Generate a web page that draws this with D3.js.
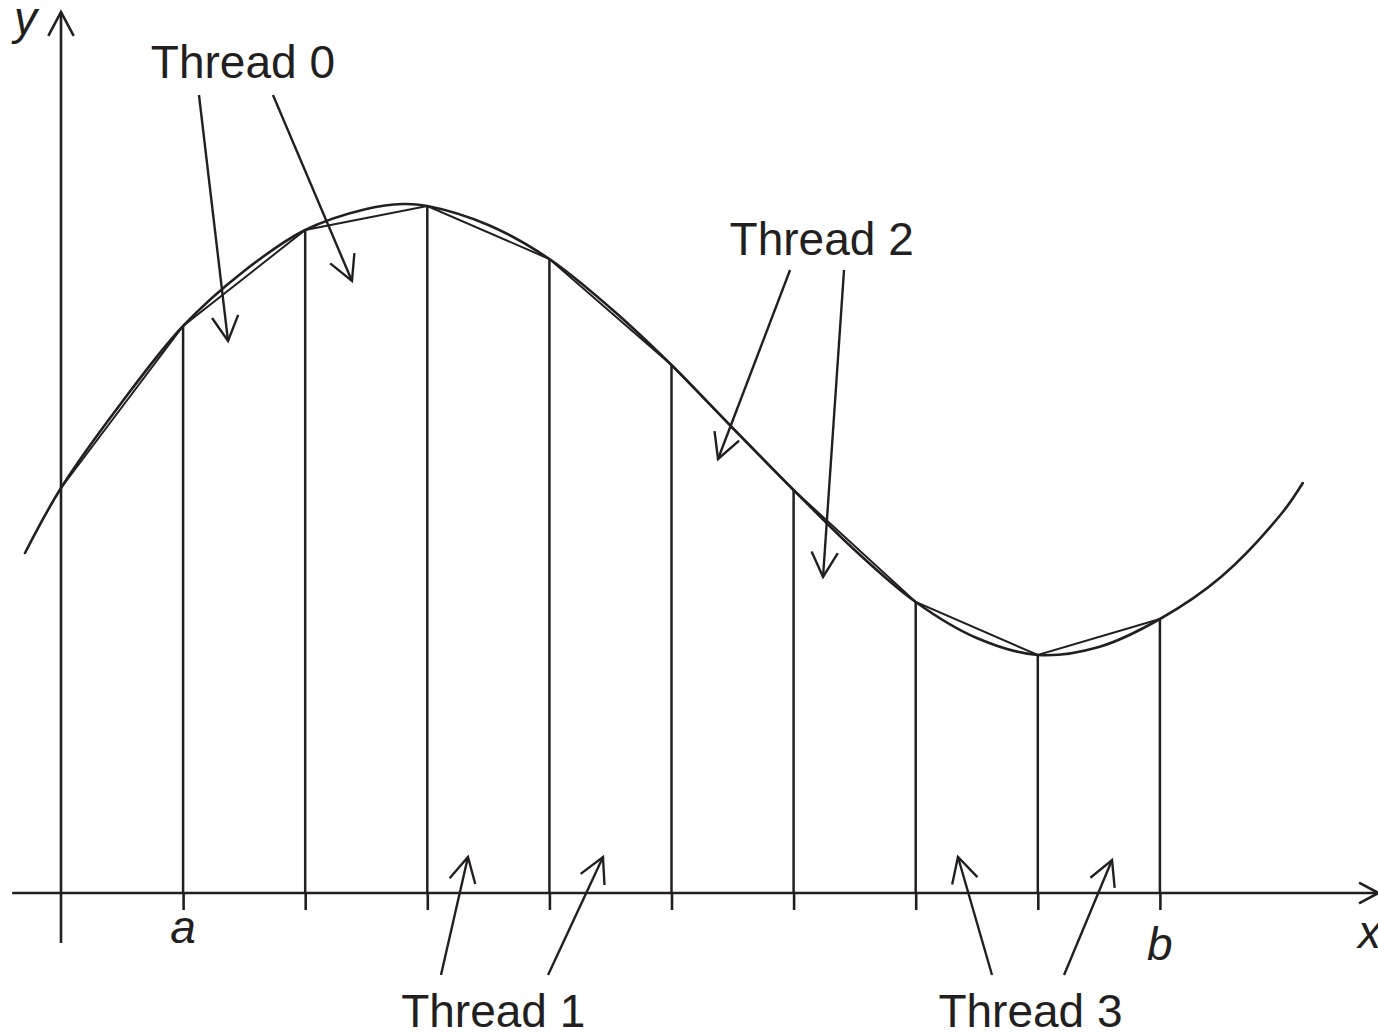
<!DOCTYPE html>
<html>
<head>
<meta charset="utf-8">
<script src="https://cdn.jsdelivr.net/npm/d3@7"></script>
<style>
  body { margin: 0; background: #fff; }
  svg { display: block; }
  text { font-family: "Liberation Sans", Arial, sans-serif; fill: #231f20; }
</style>
</head>
<body>
<div id="chart"></div>
<script>
// curve samples (x in interval units, y in value units)
var curveX = [-0.295, 0, 0.5, 1, 1.5, 2, 2.5, 2.8, 3, 3.5, 4, 4.5, 5, 5.5, 6, 6.5, 7, 7.5, 8, 8.5, 9, 9.5, 10, 10.17];
var curveY = [3.40, 4.05, 4.91, 5.67, 6.22, 6.63, 6.84, 6.89, 6.87, 6.68, 6.34, 5.85, 5.28, 4.65, 4.03, 3.43, 2.91, 2.55, 2.38, 2.46, 2.74, 3.16, 3.80, 4.10];

// trapezoid nodes x = 0..9
var nodeX = [0, 1, 2, 3, 4, 5, 6, 7, 8, 9];
var nodeY = [4.05, 5.67, 6.63, 6.87, 6.34, 5.28, 4.03, 2.91, 2.38, 2.74];

var tickValues = [1, 2, 3, 4, 5, 6, 7, 8, 9];
var tickLabels = [{x: 1, text: "a", dy: 0.5}, {x: 9, text: "b", dy: 0.67}];

// thread labels and their arrows [x0, y0, x1, y1] (tail -> head)
var threadNames = ["Thread 0", "Thread 1", "Thread 2", "Thread 3"];
var threadLabelX = [1.49, 3.54, 6.23, 7.94];
var threadLabelY = [8.15, -1.34, 6.38, -1.34];
var threadArrows = [
  [[1.13, 7.98, 1.368, 5.52], [1.736, 7.98, 2.383, 6.12]],
  [[3.112, -0.82, 3.333, 0.36], [3.989, -0.82, 4.439, 0.36]],
  [[5.971, 6.23, 5.381, 4.34], [6.413, 6.23, 6.241, 3.16]],
  [[7.625, -0.82, 7.346, 0.36], [8.215, -0.82, 8.608, 0.33]]
];

var width = 1378, height = 1032;
var ink = "#231f20";

var x = d3.scaleLinear().domain([0, 10]).range([61, 1282]);
var y = d3.scaleLinear().domain([0, 8.8]).range([893, 13]);

var svg = d3.select("#chart").append("svg")
  .attr("width", width)
  .attr("height", height);

// arrow helper: open head made of two short strokes
function arrow(g, x0, y0, x1, y1, len, w) {
  var ang = Math.atan2(y1 - y0, x1 - x0), spread = 28 * Math.PI / 180;
  g.append("line")
    .attr("x1", x0).attr("y1", y0).attr("x2", x1).attr("y2", y1)
    .attr("stroke", ink).attr("stroke-width", w);
  g.append("polyline")
    .attr("points", [
      [x1 - len * Math.cos(ang - spread), y1 - len * Math.sin(ang - spread)],
      [x1, y1],
      [x1 - len * Math.cos(ang + spread), y1 - len * Math.sin(ang + spread)]
    ].map(function(p) { return p.join(","); }).join(" "))
    .attr("fill", "none").attr("stroke", ink).attr("stroke-width", w)
    .attr("stroke-linejoin", "miter");
}

// axes
var axes = svg.append("g");
arrow(axes, x(-0.4), y(0), x(10.79), y(0), 22, 2.6);
arrow(axes, x(0), y(-0.5), x(0), y(8.81), 27, 2.6);

var xAxis = d3.axisBottom(x)
  .tickValues(tickValues)
  .tickSize(17)
  .tickSizeOuter(0)
  .tickFormat("");

svg.append("g")
  .attr("transform", "translate(0," + y(0) + ")")
  .call(xAxis)
  .call(function(g) { g.select(".domain").remove(); })
  .call(function(g) { g.selectAll(".tick line").attr("stroke", ink).attr("stroke-width", 2.6); });

// vertical lines up to the curve
svg.append("g").selectAll("line")
  .data(nodeX.slice(1))
  .enter().append("line")
  .attr("x1", function(d) { return x(d); })
  .attr("x2", function(d) { return x(d); })
  .attr("y1", y(0))
  .attr("y2", function(d) { return y(nodeY[d]); })
  .attr("stroke", ink)
  .attr("stroke-width", 2.5);

// chords (trapezoid tops)
var chord = d3.line()
  .x(function(d) { return x(d); })
  .y(function(d) { return y(nodeY[d]); });

svg.append("path")
  .attr("d", chord(nodeX))
  .attr("fill", "none")
  .attr("stroke", ink)
  .attr("stroke-width", 2);

// the function curve
var curvePts = curveX.map(function(d, i) { return [d, curveY[i]]; });
var curveLine = d3.line()
  .x(function(d) { return x(d[0]); })
  .y(function(d) { return y(d[1]); })
  .curve(d3.curveCatmullRom.alpha(0.5));

svg.append("path")
  .attr("d", curveLine(curvePts))
  .attr("fill", "none")
  .attr("stroke", ink)
  .attr("stroke-width", 2.6)
  .attr("stroke-linecap", "round");

// tick labels a, b
svg.selectAll(".tlabel")
  .data(tickLabels)
  .enter().append("text")
  .attr("class", "tlabel")
  .attr("x", function(d) { return x(d.x); })
  .attr("y", function(d) { return y(-d.dy); })
  .attr("text-anchor", "middle")
  .attr("font-style", "italic")
  .attr("font-size", 46)
  .text(function(d) { return d.text; });

// axis letters
svg.append("text")
  .attr("x", 1358).attr("y", 948)
  .attr("font-style", "italic").attr("font-size", 46)
  .text("x");
svg.append("text")
  .attr("x", 14).attr("y", 34)
  .attr("font-style", "italic").attr("font-size", 46)
  .text("y");

// thread labels + arrows
var notes = svg.append("g");
threadNames.forEach(function(name, i) {
  notes.append("text")
    .attr("x", x(threadLabelX[i]))
    .attr("y", y(threadLabelY[i]))
    .attr("text-anchor", "middle")
    .attr("font-size", 46)
    .text(name);
  threadArrows[i].forEach(function(a) {
    arrow(notes, x(a[0]), y(a[1]), x(a[2]), y(a[3]), 28, 2.4);
  });
});
</script>
</body>
</html>
